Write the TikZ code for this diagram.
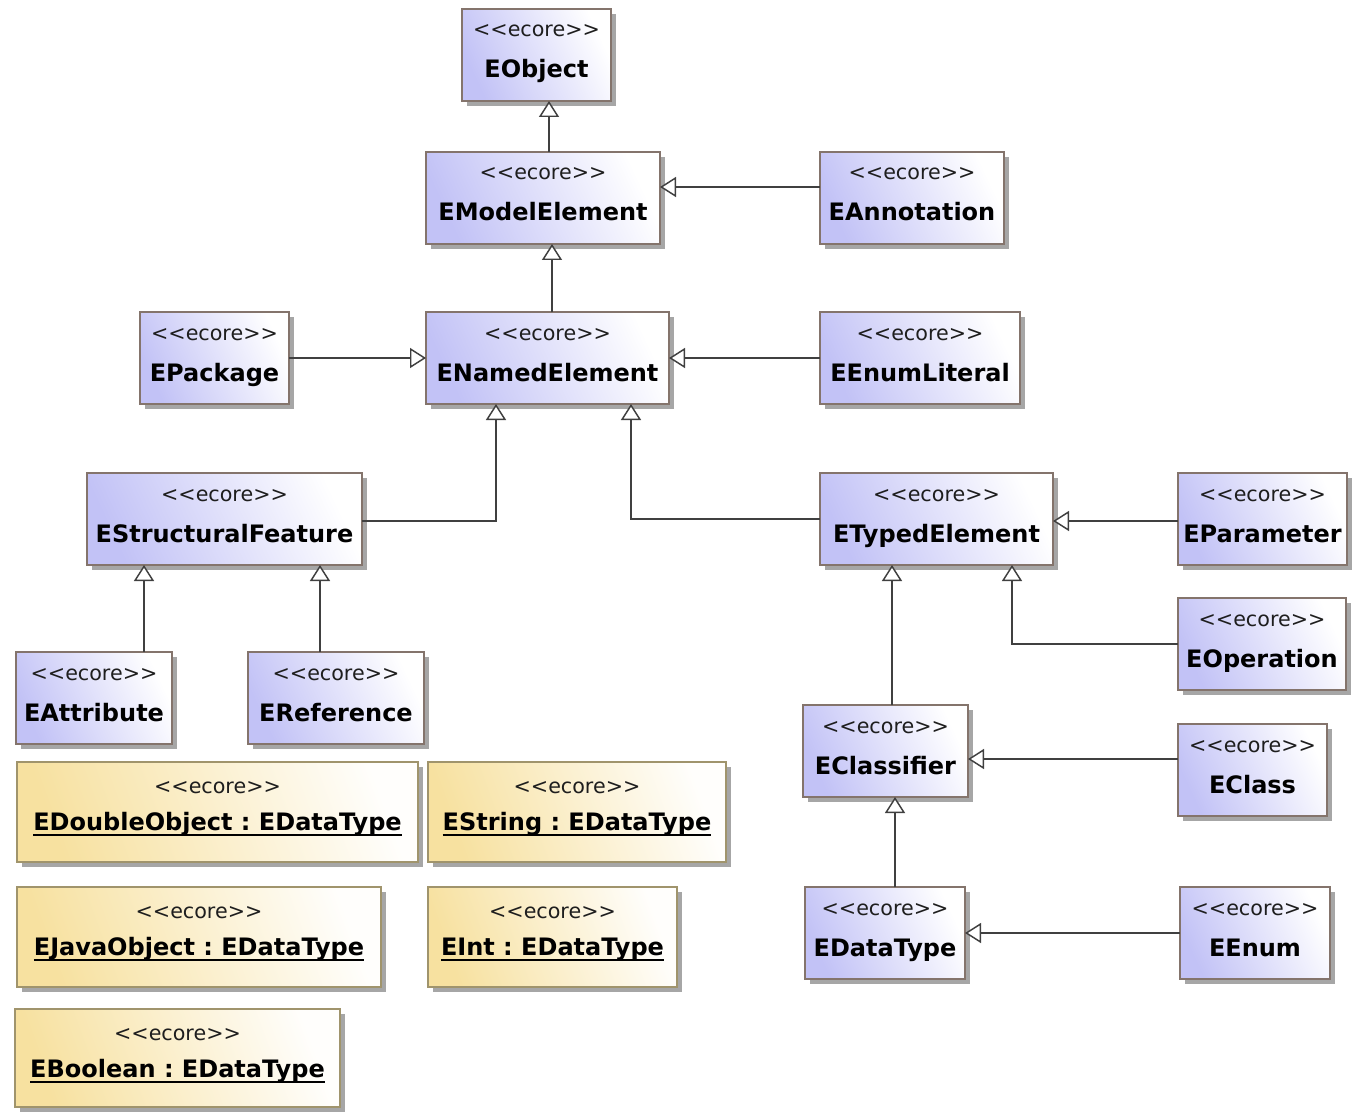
\documentclass[tikz,border=0pt]{standalone}
\usepackage{fontspec}
\usetikzlibrary{arrows.meta,fit,calc,shadows}
\newfontfamily\umlfont{DejaVu Sans}

\definecolor{clsfill}{RGB}{194,194,246}
\definecolor{clsedge}{RGB}{132,116,108}
\definecolor{instfill}{RGB}{247,225,160}
\definecolor{instedge}{RGB}{160,148,108}
\definecolor{linkcol}{RGB}{64,64,64}
\definecolor{stereocol}{RGB}{30,30,30}

% underlined object name
\newcommand\ulname[1]{\setbox0\hbox{#1}\rlap{\rule[-4.5pt]{\wd0}{1.5pt}}\box0}

% a metaclass box: id, x1, y1, x2, y2, name
\newcommand\clsbox[6]{%
  \node[classbox, fit={(#2,#3)(#4,#5)}] (#1) {};
  \node[stereo] (#1-st) at ($(#1.north)+(0,28)$) {<<ecore>>};
  \node[clsname] (#1-nm) at ($(#1.north)+(0,69)$) {#6};
}
% an instance box: id, x1, y1, x2, y2, name
\newcommand\instbox[6]{%
  \node[objbox, fit={(#2,#3)(#4,#5)}] (#1) {};
  \node[stereo] (#1-st) at ($(#1.north)+(0,31)$) {<<ecore>>};
  \node[clsname] (#1-nm) at ($(#1.north)+(0,68)$) {\ulname{#6}};
}

\begin{document}
\begin{tikzpicture}[x=0.75pt,y=-0.75pt,
  boxshadow/.style={drop shadow={shadow xshift=3.75pt, shadow yshift=-3.75pt, fill=black, opacity=0.35}},
  classbox/.style={rectangle, inner sep=0pt, outer sep=0pt, draw=clsedge, line width=1.1pt,
    left color=clsfill, right color=white, shading angle=115, boxshadow},
  objbox/.style={rectangle, inner sep=0pt, outer sep=0pt, draw=instedge, line width=1.1pt,
    left color=instfill, right color=white!97!instfill, shading angle=110, boxshadow},
  stereo/.style={anchor=base, inner sep=0pt, text=stereocol, font=\umlfont\fontsize{15.5}{17}\selectfont},
  clsname/.style={anchor=base, inner sep=0pt, text=black, font=\umlfont\bfseries\fontsize{18}{20}\selectfont\frenchspacing},
  gen/.style={draw=linkcol, line width=1.5pt,
    -{Triangle[fill=white, length=12pt, width=15pt, line width=1.1pt]}}
]
\fill[white] (0,0) rectangle (1358,1112);
\useasboundingbox (0,0) rectangle (1358,1112);

% metaclasses
\clsbox{eobj}{462}{9}{611}{101}{EObject}
\clsbox{emodel}{426}{152}{660}{244}{EModelElement}
\clsbox{eanno}{820}{152}{1004}{244}{EAnnotation}
\clsbox{epack}{140}{312}{289}{404}{EPackage}
\clsbox{enamed}{426}{312}{669}{404}{ENamedElement}
\clsbox{eenumlit}{820}{312}{1020}{404}{EEnumLiteral}
\clsbox{estruct}{87}{473}{362}{565}{EStructuralFeature}
\clsbox{etyped}{820}{473}{1053}{565}{ETypedElement}
\clsbox{eparam}{1178}{473}{1347}{565}{EParameter}
\clsbox{eoper}{1178}{598}{1346}{690}{EOperation}
\clsbox{eattr}{16}{652}{172}{744}{EAttribute}
\clsbox{eref}{248}{652}{424}{744}{EReference}
\clsbox{eclassifier}{803}{705}{968}{797}{EClassifier}
\clsbox{eclass}{1178}{724}{1327}{816}{EClass}
\clsbox{edatatype}{805}{887}{965}{979}{EDataType}
\clsbox{eenum}{1180}{887}{1330}{979}{EEnum}

% data type instances
\instbox{edouble}{17}{762}{418}{862}{EDoubleObject : EDataType}
\instbox{estring}{428}{762}{726}{862}{EString : EDataType}
\instbox{ejava}{17}{887}{381}{987}{EJavaObject : EDataType}
\instbox{eint}{428}{887}{677}{987}{EInt : EDataType}
\instbox{ebool}{15}{1009}{340}{1107}{EBoolean : EDataType}

% generalizations
\draw[gen] (emodel.north -| 549,0) -- (eobj.south -| 549,0);
\draw[gen] (eanno.west |- 0,187) -- (emodel.east |- 0,187);
\draw[gen] (enamed.north -| 552,0) -- (emodel.south -| 552,0);
\draw[gen] (epack.east |- 0,358) -- (enamed.west |- 0,358);
\draw[gen] (eenumlit.west |- 0,358) -- (enamed.east |- 0,358);
\draw[gen] (estruct.east |- 0,521) -| (enamed.south -| 496,0);
\draw[gen] (etyped.west |- 0,519) -| (enamed.south -| 631,0);
\draw[gen] (eparam.west |- 0,521) -- (etyped.east |- 0,521);
\draw[gen] (eoper.west |- 0,644) -| (etyped.south -| 1012,0);
\draw[gen] (eattr.north -| 144,0) -- (estruct.south -| 144,0);
\draw[gen] (eref.north -| 320,0) -- (estruct.south -| 320,0);
\draw[gen] (eclassifier.north -| 892,0) -- (etyped.south -| 892,0);
\draw[gen] (eclass.west |- 0,759) -- (eclassifier.east |- 0,759);
\draw[gen] (edatatype.north -| 895,0) -- (eclassifier.south -| 895,0);
\draw[gen] (eenum.west |- 0,933) -- (edatatype.east |- 0,933);
\end{tikzpicture}
\end{document}
